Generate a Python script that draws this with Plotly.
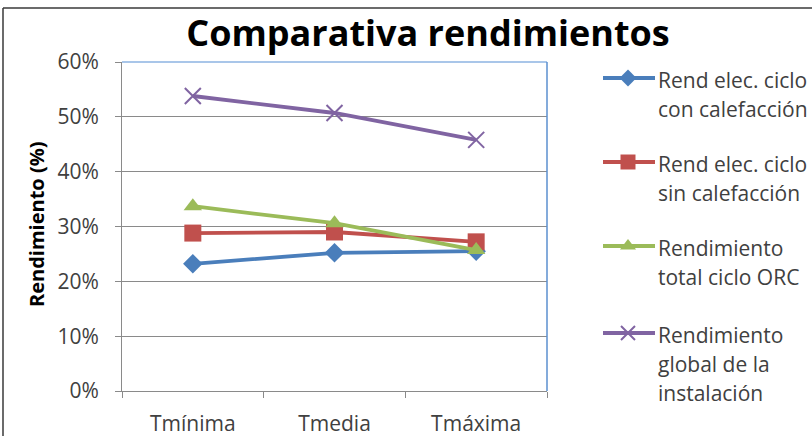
import plotly.graph_objects as go

# Chart data
categories = ["Tmínima", "Tmedia", "Tmáxima"]
rend_con_calef = [23.2, 25.2, 25.5]
rend_sin_calef = [28.8, 29.0, 27.2]
rend_total_orc = [33.7, 30.6, 25.7]
rend_global = [53.8, 50.7, 45.8]

series_names = [
    ["Rend elec. ciclo", "con calefacción"],
    ["Rend elec. ciclo", "sin calefacción"],
    ["Rendimiento", "total ciclo ORC"],
    ["Rendimiento", "global de la", "instalación"],
]
y_ticks = [0, 10, 20, 30, 40, 50, 60]

W, H = 812, 436
# plot area in pixels
PL, PR, PT, PB = 122, 547, 62, 391

colors = ["#4A7EBB", "#C0504D", "#9BBB59", "#8064A2"]
symbols = ["diamond", "square", "triangle-up", "x-thin-open"]
msizes = [15, 17, 16, 16]
series = [rend_con_calef, rend_sin_calef, rend_total_orc, rend_global]

FONT = "Open Sans"
TXT = "#404040"

fig = go.Figure()

for vals, name, c, s, ms in zip(series, series_names, colors, symbols, msizes):
    marker = dict(symbol=s, size=ms, color=c)
    if s.endswith("open"):
        marker["line"] = dict(color=c, width=2)
    fig.add_trace(go.Scatter(
        x=categories, y=vals, mode="lines+markers",
        name=" ".join(name), showlegend=False,
        line=dict(color=c, width=3.8),
        marker=marker,
    ))

# Legend drawn on a pixel-space overlay axis
leg_rows = [78, 162, 246, 333]
leg_x0, leg_x1, leg_xm, text_x = 603, 655, 628, 656
line_gap = 29
for name, c, s, ms, yr in zip(series_names, colors, symbols, msizes, leg_rows):
    fig.add_trace(go.Scatter(
        x=[leg_x0, leg_x1], y=[yr, yr], mode="lines",
        line=dict(color=c, width=3.8), xaxis="x2", yaxis="y2",
        showlegend=False, hoverinfo="skip",
    ))
    marker = dict(symbol=s, size=ms - 2, color=c)
    if s.endswith("open"):
        marker["line"] = dict(color=c, width=2)
    fig.add_trace(go.Scatter(
        x=[leg_xm], y=[yr], mode="markers", marker=marker,
        xaxis="x2", yaxis="y2", showlegend=False, hoverinfo="skip",
    ))
    for i, line in enumerate(name):
        fig.add_annotation(
            x=text_x, y=yr + 2 + i * line_gap, xref="x2", yref="y2",
            text=line, showarrow=False, xanchor="left", yanchor="middle",
            font=dict(family=FONT, size=21, color=TXT),
        )

# Y-axis title
fig.add_annotation(
    x=36, y=225, xref="x2", yref="y2", text="<b>Rendimiento (%)</b>",
    textangle=-90, showarrow=False, xanchor="center", yanchor="middle",
    font=dict(family=FONT, size=20, color="black"),
)

grid_col = "#8A8A8A"
fig.update_layout(
    width=W, height=H,
    margin=dict(l=0, r=0, t=0, b=0, pad=0, autoexpand=False),
    paper_bgcolor="white", plot_bgcolor="rgba(0,0,0,0)",
    title=dict(
        text="<b>Comparativa rendimientos</b>", automargin=False,
        x=428 / W, xanchor="center", y=1 - 33 / H, yanchor="middle",
        font=dict(family=FONT, size=36, color="black"),
    ),
    xaxis=dict(
        type="category", range=[-0.5, 2.5], automargin=False,
        domain=[PL / W, PR / W],
        showgrid=False, showline=True, linecolor=grid_col, linewidth=1,
        ticks="outside", tickson="boundaries", ticklen=6, tickcolor=grid_col,
        ticklabelstandoff=14,
        tickfont=dict(family=FONT, size=21, color=TXT),
        zeroline=False,
    ),
    yaxis=dict(
        range=[0, 60], domain=[(H - PB) / H, (H - PT) / H], automargin=False,
        tickvals=y_ticks, ticktext=[f"{v}%" for v in y_ticks],
        showgrid=True, gridcolor=grid_col, gridwidth=1,
        showline=True, linecolor=grid_col, linewidth=1,
        ticks="outside", ticklen=6, tickcolor=grid_col,
        ticklabelstandoff=12,
        tickfont=dict(family=FONT, size=21, color=TXT),
        zeroline=False,
    ),
    xaxis2=dict(domain=[0, 1], range=[0, W], visible=False, anchor="y2",
                automargin=False),
    yaxis2=dict(domain=[0, 1], range=[H, 0], visible=False, anchor="x2",
                automargin=False),
    shapes=[
        # plot area border (top and right)
        dict(type="line", xref="x domain", yref="y domain", x0=0, x1=1, y0=1, y1=1,
             line=dict(color="#8DB3E2", width=1.5)),
        dict(type="line", xref="x domain", yref="y domain", x0=1, x1=1, y0=0, y1=1,
             line=dict(color="#5B8FCF", width=1.5)),
        # chart frame
        dict(type="line", xref="x2", yref="y2", x0=3, x1=W, y0=8, y1=8,
             line=dict(color="#3A3A3A", width=1.5)),
        dict(type="line", xref="x2", yref="y2", x0=3, x1=3, y0=8, y1=H,
             line=dict(color="#3A3A3A", width=1.5)),
    ],
)

fig.write_html("out.html")
